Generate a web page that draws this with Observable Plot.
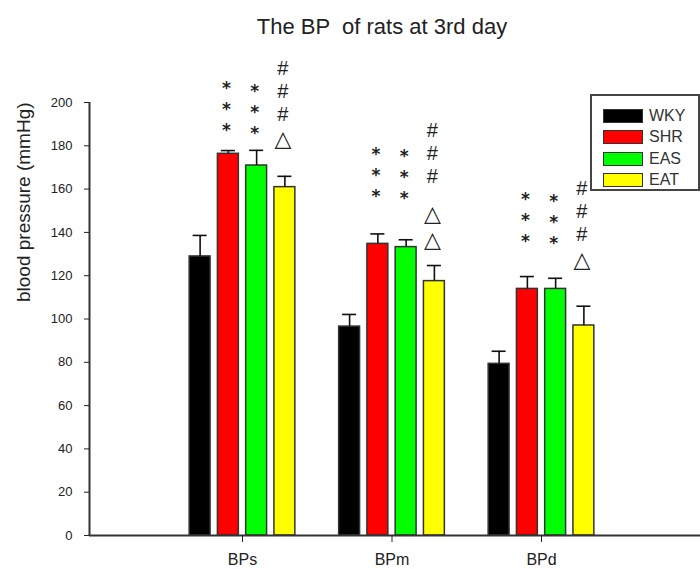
<!DOCTYPE html>
<html>
<head>
<meta charset="utf-8">
<script src="https://cdn.jsdelivr.net/npm/d3@7"></script>
<script src="https://cdn.jsdelivr.net/npm/@observablehq/plot@0.6"></script>
<style>
  body { margin: 0; background: #fff; }
  #wrap { position: relative; width: 700px; height: 569px; font-family: "Liberation Sans", Arial, sans-serif; }
  #wrap svg { position: absolute; left: 0; top: 0; }
  #title { position: absolute; left: 0; width: 764px; text-align: center; top: 16px; font-size: 22px; line-height: 22px; color: #222; white-space: pre; }
  #legend { position: absolute; left: 590px; top: 94px; width: 110px; height: 97px; box-sizing: border-box; border: 2px solid #444; background: #fff; }
  .item { position: absolute; left: 11px; height: 14px; }
  .sw { position: absolute; left: 0; top: 0; width: 40px; height: 14px; box-sizing: border-box; border: 1.5px solid #333; }
  .lb { position: absolute; left: 46px; top: -1px; font-size: 16px; line-height: 16px; color: #333; }
</style>
</head>
<body>
<div id="wrap"><div id="title"></div><div id="legend"></div></div>
<script>
// ---- data ----
const title = "The BP  of rats at 3rd day";
const yLabel = "blood pressure (mmHg)";
const categories = ["BPs", "BPm", "BPd"];
const groups = ["WKY", "SHR", "EAS", "EAT"];
const groupColors = ["#000000", "#ff0000", "#00ff00", "#ffff00"];

const wky = [128.9, 96.5, 79.3];
const shr = [176.3, 134.7, 113.9];
const eas = [170.9, 133.2, 113.9];
const eat = [160.9, 117.5, 97.0];

const wkyErr = [9.7, 5.6, 5.8];
const shrErr = [1.5, 4.6, 5.7];
const easErr = [7.0, 3.4, 4.9];
const eatErr = [5.0, 7.2, 8.9];

const yTicks = [0, 20, 40, 60, 80, 100, 120, 140, 160, 180, 200];

// significance marks (block centre, mmHg)
const starLabel = "*\n*\n*";
const hashLabel = "#\n#\n#";
const shrStarsY = [199.3, 168.9, 148.1];
const easStarsY = [197.7, 167.8, 146.9];
const eatHashY = [205.5, 176.9, 150.1];
const eatTriangleY = [184.0, 143.2, 127.8];
const eatTriangleCount = [1, 2, 1];

// ---- build ----
const values = [wky, shr, eas, eat];
const errs = [wkyErr, shrErr, easErr, eatErr];
const colorOf = Object.fromEntries(groups.map((g, j) => [g, groupColors[j]]));
const rows = categories.flatMap((c, i) => groups.map((g, j) => ({
  cat: c, ci: i + 1, gi: j, group: g, value: values[j][i], err: errs[j][i]
})));

const pitch = 0.189, half = 0.07, capHalf = 0.047;
const pos = d => d.ci + (d.gi - 1.5) * pitch;
const xDomain = [-0.0234, 4.0635];

const stars = categories.flatMap((c, i) => [
  {ci: i + 1, gi: 1, y: shrStarsY[i]},
  {ci: i + 1, gi: 2, y: easStarsY[i]}
]);
const hashes = categories.map((c, i) => ({ci: i + 1, gi: 3, y: eatHashY[i]}));
const tris = categories.map((c, i) => ({ci: i + 1, gi: 3, y: eatTriangleY[i], n: eatTriangleCount[i]}));

const chart = Plot.plot({
  width: 700, height: 569,
  marginLeft: 89, marginRight: 0, marginTop: 102, marginBottom: 34,
  style: {fontFamily: "Liberation Sans, Arial, sans-serif", background: "transparent", overflow: "visible"},
  x: {type: "linear", domain: xDomain},
  y: {domain: [0, 200]},
  marks: [
    Plot.rectY(rows, {x1: d => pos(d) - half, x2: d => pos(d) + half, y1: 0, y2: "value",
      fill: d => colorOf[d.group], stroke: "#333", strokeWidth: 1.5}),
    Plot.ruleX(rows, {x: pos, y1: "value", y2: d => d.value + d.err, stroke: "#111", strokeWidth: 1.6}),
    Plot.ruleY(rows, {x1: d => pos(d) - capHalf, x2: d => pos(d) + capHalf, y: d => d.value + d.err, stroke: "#111", strokeWidth: 1.6}),
    Plot.ruleY([0], {stroke: "#333", strokeWidth: 2}),
    Plot.ruleX([xDomain[0]], {y1: 0, y2: 200, stroke: "#333", strokeWidth: 2}),
    Plot.axisY({ticks: yTicks, tickSize: 5, tickPadding: 12, fontSize: 13, color: "#222", label: null}),
    Plot.axisX({ticks: [1, 2, 3], tickFormat: i => categories[i - 1], tickSize: 7, tickPadding: 11, fontSize: 16, color: "#222", label: null}),
    Plot.text([yLabel], {frameAnchor: "left", rotate: -90, dx: -66, dy: -17, fontSize: 19, fill: "#222", ariaLabel: "ylabel"}),
    Plot.text(stars, {x: pos, y: "y", text: () => starLabel, fontFamily: "DejaVu Sans", fontWeight: "bold", fontSize: 17, lineHeight: 1.235, dy: 4, dx: -2, fill: "#222"}),
    Plot.text(hashes, {x: pos, y: "y", text: () => hashLabel, fontSize: 20, lineHeight: 1.17, dx: -2, fill: "#222"}),
    Plot.text(tris, {x: pos, y: "y", text: d => Array(d.n).fill("\u25B3").join("\n"), fontFamily: "DejaVu Sans", fontSize: 22, lineHeight: 1.2, dx: -2, fill: "#222"})
  ]
});

const wrap = document.getElementById("wrap");
wrap.insertBefore(chart, wrap.firstChild);
// stretch the axis title to the reference length, centred on its anchor
d3.select(chart).select("g[aria-label='ylabel'] text")
  .attr("text-anchor", "start").attr("x", -125)
  .attr("textLength", 250).attr("lengthAdjust", "spacingAndGlyphs");
document.getElementById("title").textContent = title;

const legend = document.getElementById("legend");
groups.forEach((g, j) => {
  const item = document.createElement("div");
  item.className = "item";
  item.style.top = (13 + j * 21.3) + "px";
  const sw = document.createElement("div");
  sw.className = "sw";
  sw.style.background = groupColors[j];
  const lb = document.createElement("div");
  lb.className = "lb";
  lb.textContent = g;
  item.appendChild(sw); item.appendChild(lb);
  legend.appendChild(item);
});
</script>
</body>
</html>
